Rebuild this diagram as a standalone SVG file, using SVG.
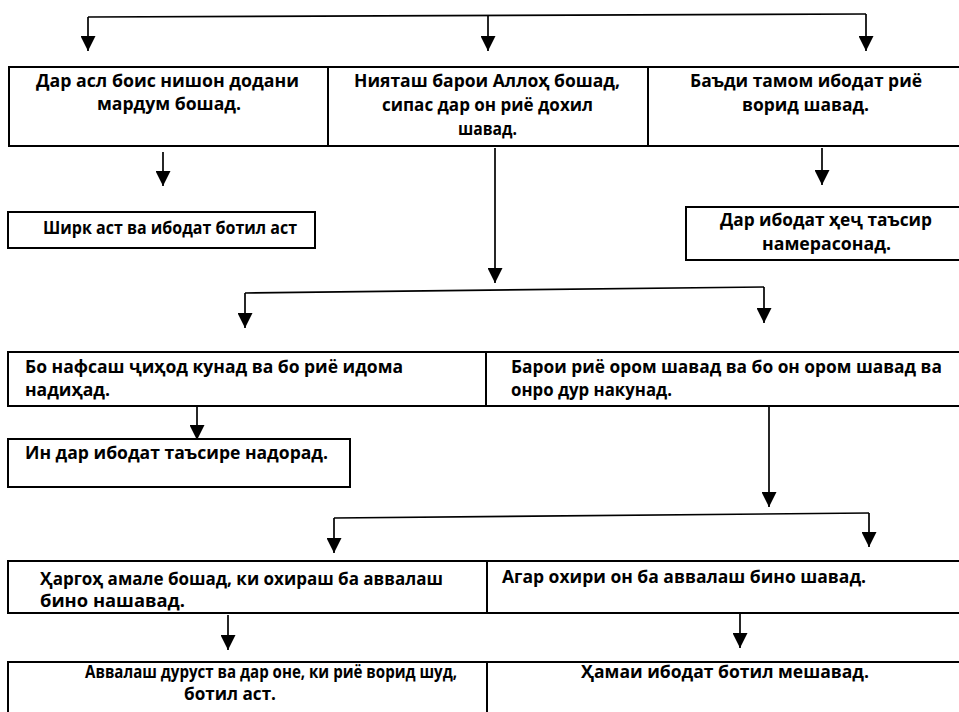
<svg xmlns="http://www.w3.org/2000/svg" width="959" height="712" viewBox="0 0 959 712">
<defs>
<style>
.box{fill:#fff;stroke:#000;stroke-width:2}
.t{font-family:"Open Sans","Noto Sans","Liberation Sans",sans-serif;font-weight:bold;font-size:18px;fill:#000}
.c{fill:none;stroke:#000;stroke-width:1.7}
.a{marker-end:url(#arr)}
</style>
<marker id="arr" viewBox="0 0 15 15" refX="15" refY="7.5" markerWidth="15" markerHeight="15" orient="auto" markerUnits="userSpaceOnUse">
<path d="M0,0 L15,7.5 L0,15 z" fill="#000"/>
</marker>
</defs>
<rect width="959" height="712" fill="#fff"/>

<g id="connectors">
<path class="c" d="M88,17 L866,14"/>
<path class="c a" d="M88,17 L88,51"/>
<path class="c a" d="M488,15 L488,51"/>
<path class="c a" d="M866,14 L866,51"/>
<path class="c a" d="M163,152 L163,186"/>
<path class="c a" d="M495,148 L495,283"/>
<path class="c a" d="M822,148 L822,185"/>
<path class="c" d="M245,293 L764,287"/>
<path class="c a" d="M245,293 L245,328"/>
<path class="c a" d="M764,287 L764,323"/>
<path class="c a" d="M197,405 L197,440"/>
<path class="c a" d="M769,404 L769,507"/>
<path class="c" d="M334,518 L869,513"/>
<path class="c a" d="M334,518 L334,553"/>
<path class="c a" d="M869,513 L869,547"/>
<path class="c a" d="M228,615 L228,650"/>
<path class="c a" d="M740,612 L740,648"/>
</g>

<g id="n1">
<rect class="box" x="9" y="67" width="319" height="79"/>
<text class="t" x="36" y="87" textLength="263" lengthAdjust="spacingAndGlyphs">Дар асл боис нишон додани</text>
<text class="t" x="97" y="110" textLength="144" lengthAdjust="spacingAndGlyphs">мардум бошад.</text>
</g>
<g id="n2">
<rect class="box" x="328" y="67" width="320" height="79"/>
<text class="t" x="354" y="87" textLength="266" lengthAdjust="spacingAndGlyphs">Нияташ барои Аллоҳ бошад,</text>
<text class="t" x="382" y="111" textLength="211" lengthAdjust="spacingAndGlyphs">сипас дар он риё дохил</text>
<text class="t" x="458" y="135" textLength="59" lengthAdjust="spacingAndGlyphs">шавад.</text>
</g>
<g id="n3">
<rect class="box" x="648" y="67" width="316" height="79"/>
<text class="t" x="690" y="87" textLength="232" lengthAdjust="spacingAndGlyphs">Баъди тамом ибодат риё</text>
<text class="t" x="742" y="111" textLength="127" lengthAdjust="spacingAndGlyphs">ворид шавад.</text>
</g>
<g id="n4">
<rect class="box" x="8" y="212" width="307" height="36"/>
<text class="t" x="43" y="234" textLength="254" lengthAdjust="spacingAndGlyphs">Ширк аст ва ибодат ботил аст</text>
</g>
<g id="n5">
<rect class="box" x="686" y="207" width="278" height="53"/>
<text class="t" x="720" y="226" textLength="212" lengthAdjust="spacingAndGlyphs">Дар ибодат ҳеҷ таъсир</text>
<text class="t" x="762" y="250" textLength="129" lengthAdjust="spacingAndGlyphs">намерасонад.</text>
</g>
<g id="n6">
<rect class="box" x="8" y="352" width="478" height="54"/>
<text class="t" x="25" y="373" textLength="378" lengthAdjust="spacingAndGlyphs">Бо нафсаш ҷиҳод кунад ва бо риё идома</text>
<text class="t" x="25" y="396" textLength="85" lengthAdjust="spacingAndGlyphs">надиҳад.</text>
</g>
<g id="n7">
<rect class="box" x="486" y="352" width="478" height="54"/>
<text class="t" x="511" y="373" textLength="431" lengthAdjust="spacingAndGlyphs">Барои риё ором шавад ва бо он ором шавад ва</text>
<text class="t" x="511" y="396" textLength="161" lengthAdjust="spacingAndGlyphs">онро дур накунад.</text>
</g>
<g id="n8">
<rect class="box" x="8" y="439" width="342" height="48"/>
<text class="t" x="25" y="459" textLength="303" lengthAdjust="spacingAndGlyphs">Ин дар ибодат таъсире надорад.</text>
</g>
<g id="n9">
<rect class="box" x="8" y="561" width="479" height="52"/>
<text class="t" x="40" y="585" textLength="403" lengthAdjust="spacingAndGlyphs">Ҳаргоҳ амале бошад, ки охираш ба аввалаш</text>
<text class="t" x="40" y="607" textLength="145" lengthAdjust="spacingAndGlyphs">бино нашавад.</text>
</g>
<g id="n10">
<rect class="box" x="487" y="561" width="477" height="52"/>
<text class="t" x="502" y="583" textLength="364" lengthAdjust="spacingAndGlyphs">Агар охири он ба аввалаш бино шавад.</text>
</g>
<g id="n11">
<rect class="box" x="8" y="662" width="479" height="60"/>
<text class="t" x="85" y="678" textLength="372" lengthAdjust="spacingAndGlyphs">Аввалаш дуруст ва дар оне, ки риё ворид шуд,</text>
<text class="t" x="184" y="700" textLength="92" lengthAdjust="spacingAndGlyphs">ботил аст.</text>
</g>
<g id="n12">
<rect class="box" x="487" y="662" width="477" height="60"/>
<text class="t" x="581" y="678" textLength="288" lengthAdjust="spacingAndGlyphs">Ҳамаи ибодат ботил мешавад.</text>
</g>
</svg>
